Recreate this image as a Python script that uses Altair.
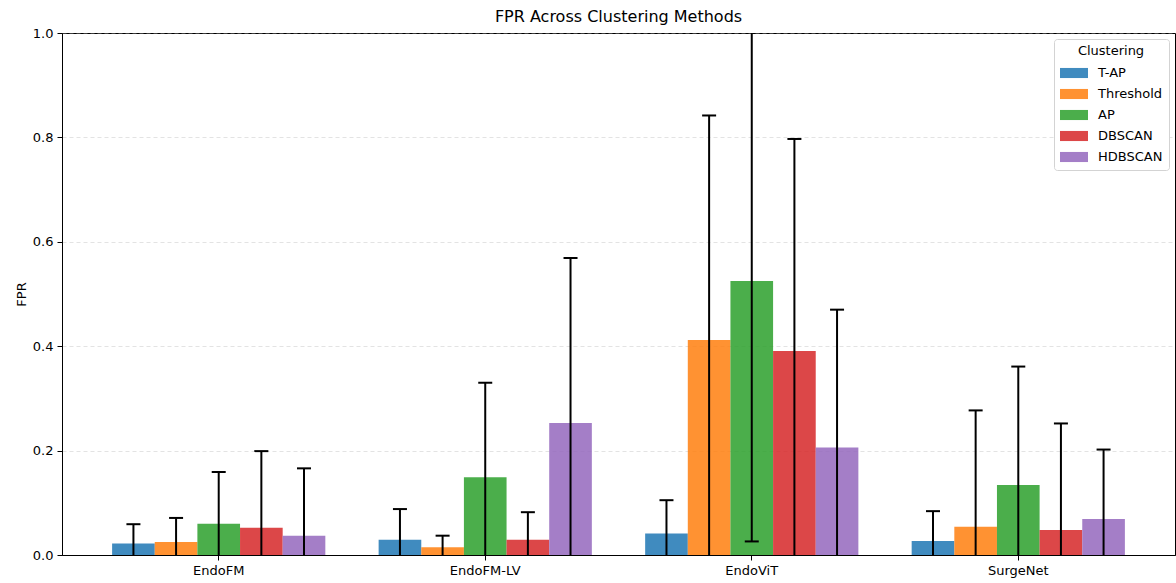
import altair as alt
import pandas as pd

# Models on the x axis and clustering methods within each group
models = ["EndoFM", "EndoFM-LV", "EndoViT", "SurgeNet"]
methods = ["T-AP", "Threshold", "AP", "DBSCAN", "HDBSCAN"]
colors = ["#1f77b4", "#ff7f0e", "#2ca02c", "#d62728", "#9467bd"]

# Mean FPR per method (one list per method, ordered as `models`)
fpr_mean = {
    "T-AP":      [0.022, 0.029, 0.041, 0.027],
    "Threshold": [0.025, 0.015, 0.412, 0.054],
    "AP":        [0.060, 0.149, 0.525, 0.134],
    "DBSCAN":    [0.052, 0.029, 0.391, 0.048],
    "HDBSCAN":   [0.037, 0.253, 0.206, 0.069],
}

# Standard deviation of FPR per method
fpr_std = {
    "T-AP":      [0.037, 0.059, 0.064, 0.057],
    "Threshold": [0.046, 0.022, 0.430, 0.223],
    "AP":        [0.099, 0.181, 0.499, 0.227],
    "DBSCAN":    [0.147, 0.053, 0.406, 0.204],
    "HDBSCAN":   [0.129, 0.316, 0.264, 0.133],
}

rows = []
for m in methods:
    for i, model in enumerate(models):
        mu, sd = fpr_mean[m][i], fpr_std[m][i]
        rows.append({"Model": model, "Clustering": m, "FPR": mu,
                     "lo": mu - sd, "hi": mu + sd})
df = pd.DataFrame(rows)

FONT = "DejaVu Sans"

x_enc = alt.X("Model:N", sort=models, title=None,
              scale=alt.Scale(paddingInner=0.2, paddingOuter=0.188),
              axis=alt.Axis(labelAngle=0, labelFontSize=13, labelColor="#000",
                            labelPadding=4, tickSize=5, tickColor="#000",
                            domainColor="#000", grid=False))
xoff = alt.XOffset("Clustering:N", sort=methods,
                   scale=alt.Scale(paddingInner=0, paddingOuter=0))
y_scale = alt.Scale(domain=[0, 1], nice=False, clamp=False)

bars = alt.Chart(df).mark_bar(opacity=0.85, clip=True).encode(
    x=x_enc,
    xOffset=xoff,
    y=alt.Y("FPR:Q", scale=y_scale, title="FPR",
            axis=alt.Axis(values=[0, 0.2, 0.4, 0.6, 0.8, 1.0], format=".1f",
                          labelFontSize=13, labelColor="#000", labelPadding=4,
                          tickSize=5, tickColor="#000", domainColor="#000",
                          titleFontSize=13, titleFontWeight="normal",
                          titleColor="#000", titlePadding=4,
                          grid=True, gridColor="#b0b0b0", gridOpacity=0.35,
                          gridDash=[4, 3], gridWidth=1)),
    color=alt.Color("Clustering:N", sort=methods,
                    scale=alt.Scale(domain=methods, range=colors),
                    legend=alt.Legend(
                        title="Clustering", orient="top-right", offset=6,
                        titleAnchor="middle", titleFontSize=13,
                        titleFontWeight="normal", titleColor="#000",
                        titlePadding=1, labelFontSize=13, labelColor="#000",
                        symbolType="M-1,-0.36H1V0.36H-1Z", symbolSize=784,
                        symbolOpacity=0.85, symbolStrokeWidth=0,
                        rowPadding=-7, labelOffset=10,
                        fillColor="white", strokeColor="#d3d3d3",
                        cornerRadius=3, padding=6)),
)

err = alt.Chart(df).mark_rule(color="black", strokeWidth=2, clip=True).encode(
    x=alt.X("Model:N", sort=models),
    xOffset=alt.XOffset("Clustering:N", sort=methods),
    y=alt.Y("lo:Q", scale=y_scale),
    y2="hi:Q",
)

caps_hi = alt.Chart(df).mark_tick(color="black", thickness=2, size=14,
                                  clip=True, opacity=1).encode(
    x=alt.X("Model:N", sort=models),
    xOffset=alt.XOffset("Clustering:N", sort=methods),
    y=alt.Y("hi:Q", scale=y_scale),
)
caps_lo = alt.Chart(df).mark_tick(color="black", thickness=2, size=14,
                                  clip=True, opacity=1).encode(
    x=alt.X("Model:N", sort=models),
    xOffset=alt.XOffset("Clustering:N", sort=methods),
    y=alt.Y("lo:Q", scale=y_scale),
)

chart = alt.layer(bars, err, caps_hi, caps_lo).properties(
    width=1113, height=522,
    title=alt.TitleParams("FPR Across Clustering Methods", fontSize=16,
                          font=FONT, fontWeight="normal", color="#000",
                          anchor="middle", offset=2),
    autosize=alt.AutoSizeParams(type="none"),
    padding={"left": 62, "top": 33, "right": 1, "bottom": 28},
).configure(font=FONT).configure_axis(
    labelFont=FONT, titleFont=FONT
).configure_legend(labelFont=FONT, titleFont=FONT).configure_view(
    stroke="#000", strokeWidth=1
)

chart.save("out.html", embed_options={"renderer": "svg", "actions": False})
